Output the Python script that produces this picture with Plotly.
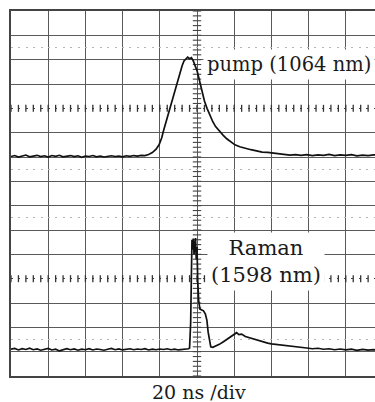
import numpy as np
import plotly.graph_objects as go

# time axis in ns (20 ns/div), vertical in screen divisions (rows)
pump_t = [-100, -98, -96, -94, -92, -90, -88, -86, -84, -82, -80, -78, -76, -74, -72, -70,
          -68, -66, -64, -62, -60, -58, -56, -54, -52, -50, -48, -46, -44, -42, -40, -38,
          -36, -34, -32, -30, -28, -26, -24, -22, -20.4, -19, -18, -17, -16, -14.6, -13, -12,
          -10.8, -9.5, -8, -7, -6, -5, -4, -3, -2, -1, 0, 1, 1.6, 3, 4, 5.4, 7, 8.5, 10, 12.4,
          14, 16, 18, 20.4, 23, 26, 29, 32, 35, 38, 41, 44, 47, 50, 53, 56, 59, 62, 65, 68,
          71, 74, 77, 80, 83, 86, 89, 92, 95, 97]
pump_v = [9.02, 9.06, 9.00, 9.05, 9.08, 9.01, 9.04, 9.07, 9.02, 9.05, 9.00, 9.06, 9.03, 9.07,
          9.01, 9.04, 9.06, 9.02, 9.05, 8.99, 9.04, 9.02, 9.06, 9.01, 9.04, 9.00, 9.03, 9.05,
          9.02, 9.04, 9.01, 9.05, 9.03, 9.06, 9.04, 9.07, 9.06, 9.10, 9.18, 9.32, 9.50, 9.78,
          10.08, 10.35, 10.60, 11.00, 11.45, 11.75, 12.04, 12.40, 12.75, 12.95, 13.05, 13.10,
          13.04, 13.08, 12.95, 12.75, 12.55, 12.25, 12.04, 11.60, 11.30, 11.00, 10.70, 10.45,
          10.25, 10.03, 9.90, 9.75, 9.62, 9.50, 9.42, 9.35, 9.30, 9.25, 9.20, 9.19, 9.16, 9.13,
          9.12, 9.08, 9.10, 9.07, 9.10, 9.06, 9.09, 9.07, 9.11, 9.06, 9.09, 9.07, 9.10, 9.05,
          9.08, 9.06, 9.09, 9.07]

raman_t = [-100, -98, -96, -94, -92, -90, -88, -86, -84, -82, -80, -78, -76, -74, -72, -70,
           -68, -66, -64, -62, -60, -58, -56, -54, -52, -50, -48, -46, -44, -42, -40, -38,
           -36, -34, -32, -30, -28, -26, -24, -22, -20, -18, -16, -14, -12, -10, -8, -6, -4.5,
           -4, -3.4, -3.0, -2.7, -2.3, -2.0, -1.6, -1.2, -0.8, -0.4, 0, 0.4, 0.9, 1.6, 2.5, 3.5,
           4.5, 5.3, 6.0, 6.7, 7.4, 8.5, 10, 12, 14, 16, 18, 20, 21.3, 22.5, 24, 26, 28, 30, 32,
           34, 36, 38, 40, 42, 44, 46, 48, 50, 53, 56, 59, 62, 65, 68, 71, 74, 77, 80, 83, 86,
           89, 92, 95, 97]
raman_v = [1.10, 1.13, 1.07, 1.12, 1.09, 1.14, 1.08, 1.11, 1.06, 1.10, 1.13, 1.07, 1.10, 1.03,
           1.09, 1.12, 1.08, 1.11, 1.06, 1.10, 1.08, 1.12, 1.07, 1.11, 1.09, 1.06, 1.10, 1.13,
           1.08, 1.11, 1.07, 1.10, 1.12, 1.08, 1.11, 1.09, 1.12, 1.07, 1.10, 1.08, 1.11, 1.09,
           1.12, 1.08, 1.10, 1.07, 1.09, 1.08, 1.12, 1.15, 2.20, 4.20, 5.60, 5.20, 5.65, 5.00,
           5.50, 5.67, 4.80, 5.30, 3.90, 3.10, 2.75, 2.72, 2.68, 2.55, 2.30, 1.80, 1.40, 1.20,
           1.18, 1.22, 1.30, 1.40, 1.50, 1.60, 1.70, 1.78, 1.70, 1.72, 1.62, 1.57, 1.52, 1.47,
           1.43, 1.39, 1.35, 1.32, 1.30, 1.27, 1.25, 1.23, 1.21, 1.19, 1.17, 1.15, 1.12, 1.14,
           1.10, 1.12, 1.08, 1.11, 1.07, 1.10, 1.05, 1.09, 1.06, 1.08, 1.05]

label_pump = "pump (1064 nm)"
label_raman = "Raman<br>(1598 nm)"
label_x = "20 ns /div"

X_RANGE = [-100, 95.7]
Y_RANGE = [0, 15]
SERIF = "DejaVu Serif"

fig = go.Figure()

# tick marks on the centre graticule lines
tx = np.arange(-100, 96, 4.0)
fig.add_trace(go.Scatter(x=np.concatenate([tx, tx]), y=[11] * len(tx) + [4] * len(tx),
                         mode="markers", hoverinfo="skip", showlegend=False,
                         marker=dict(symbol="line-ns", size=5, line=dict(width=1.3, color="#333"))))
ty = np.arange(0, 15.01, 0.2)
fig.add_trace(go.Scatter(x=[0] * len(ty), y=ty, mode="markers", hoverinfo="skip", showlegend=False,
                         marker=dict(symbol="line-ew", size=6, line=dict(width=1.1, color="#444"))))

# invisible traces to bind overlay axes
fig.add_trace(go.Scatter(x=[None], y=[None], yaxis="y2", showlegend=False))
fig.add_trace(go.Scatter(x=[None], y=[None], yaxis="y3", showlegend=False))

fig.add_trace(go.Scatter(x=pump_t, y=pump_v, mode="lines", showlegend=False,
                         line=dict(color="#111", width=1.7)))
fig.add_trace(go.Scatter(x=raman_t, y=raman_v, mode="lines", showlegend=False,
                         line=dict(color="#111", width=1.7)))

axis_common = dict(showticklabels=False, ticks="", zeroline=False)
fig.update_layout(
    width=375, height=402,
    margin=dict(l=11, r=0, t=11, b=26),
    paper_bgcolor="white", plot_bgcolor="white",
    xaxis=dict(range=X_RANGE, tickmode="linear", tick0=-100, dtick=20,
               showgrid=True, gridcolor="#5a5a5a", gridwidth=1,
               showline=True, linecolor="#444", linewidth=1.5, mirror=True, **axis_common),
    yaxis=dict(range=Y_RANGE, tickmode="array",
               tickvals=[0, 1, 2, 3, 5, 6, 7, 8, 9, 10, 12, 13, 14, 15],
               showgrid=True, gridcolor="#5a5a5a", gridwidth=1,
               showline=True, linecolor="#444", linewidth=1.5, **axis_common),
    yaxis2=dict(range=Y_RANGE, overlaying="y", tickmode="array", tickvals=[1.5, 6.5, 8.5, 13.5],
                showgrid=True, gridcolor="#b5b5b5", gridwidth=1, griddash="2px,5.4px",
                showline=False, **axis_common),
    yaxis3=dict(range=Y_RANGE, overlaying="y", tickmode="array", tickvals=[4, 11],
                showgrid=True, gridcolor="#444", gridwidth=1.3, griddash="2px,5.4px",
                showline=False, **axis_common),
    annotations=[
        dict(x=3.4, y=12.82, xref="x", yref="y", text=label_pump, showarrow=False,
             xanchor="left", yanchor="middle", bgcolor="white", borderpad=3,
             font=dict(family=SERIF, size=19.5, color="#1a1a1a")),
        dict(x=37, y=4.7, xref="x", yref="y", text=label_raman, showarrow=False,
             xanchor="center", yanchor="middle", bgcolor="white", borderpad=3,
             font=dict(family=SERIF, size=21, color="#1a1a1a")),
        dict(x=1, y=-0.044, xref="x", yref="paper", text=label_x, showarrow=False,
             xanchor="center", yanchor="middle",
             font=dict(family=SERIF, size=19, color="#1a1a1a")),
    ],
)

# remove the page's default 8px body margin so the figure fills the window exactly
fig.write_html("out.html", config={"displayModeBar": False},
               post_script="document.body.style.margin='0';")
